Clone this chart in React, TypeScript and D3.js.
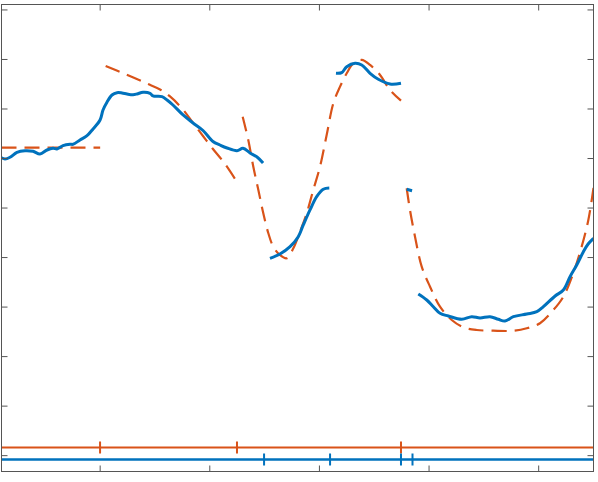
import React from "react";
import * as d3 from "d3";

// x in sample units, y in signal units
const blueSeg1X = [10, 13.2, 17.8, 24.1, 31.4, 38.7, 45.1, 51.5, 57, 60.6, 66.1, 72.5, 75.2, 81.6, 88, 93.5, 99.9, 102.6, 106.2, 110.8, 115.4, 119.9, 124.5, 130, 133.6, 139.1, 145.5, 148.2, 156.4, 161, 166.4, 175.6, 184.7, 193.8, 202.9, 209.3, 215.7, 224.8, 230.3, 236.7, 243.1, 248.6];
const blueSeg1Y = [6.017, 5.99, 6.025, 6.126, 6.158, 6.146, 6.091, 6.172, 6.207, 6.193, 6.259, 6.287, 6.287, 6.374, 6.461, 6.596, 6.778, 6.98, 7.136, 7.283, 7.329, 7.323, 7.303, 7.289, 7.303, 7.338, 7.317, 7.263, 7.249, 7.182, 7.081, 6.879, 6.718, 6.566, 6.344, 6.273, 6.213, 6.158, 6.207, 6.112, 6.031, 5.91];
const blueSeg2X = [254.9, 264, 273.2, 280.7, 285.3, 291.4, 297.5, 303.5, 309];
const blueSeg2Y = [3.985, 4.072, 4.22, 4.421, 4.658, 4.961, 5.229, 5.379, 5.405];
const blueSeg3X = [315.1, 320.3, 324.9, 332.5, 338.6, 346.2, 353.7, 364.4, 374.4];
const blueSeg3Y = [7.721, 7.733, 7.854, 7.923, 7.889, 7.721, 7.6, 7.505, 7.519];
const blueSeg4X = [379.6, 384.5];
const blueSeg4Y = [5.379, 5.35];
const blueSeg5X = [390.2, 397.9, 403.9, 410, 417.6, 429.8, 438.9, 446.5, 455.6, 463.2, 469.3, 476.9, 489.1, 498.3, 504.3, 515, 522.5, 528.6, 534.7, 540.8, 545.1, 550];
const blueSeg5Y = [3.264, 3.143, 3.008, 2.875, 2.82, 2.753, 2.806, 2.78, 2.806, 2.753, 2.719, 2.806, 2.86, 2.907, 3.008, 3.224, 3.345, 3.614, 3.85, 4.119, 4.274, 4.389];

const fitSegAX = [10, 100];
const fitSegAY = [6.219, 6.219];
const fitSegBX = [105, 122.7, 142.5, 154.6, 163.7, 174.7, 184.7, 193.8, 202.9, 213.9, 224.8];
const fitSegBY = [7.869, 7.707, 7.515, 7.394, 7.253, 7.01, 6.718, 6.455, 6.192, 5.89, 5.526];
const fitSegCX = [230, 235.1, 239.7, 244.3, 248.8, 253.4, 257.9, 264, 270.2, 276.2, 282.3, 288.4, 294.4, 300.5, 306.6, 312.7, 318.8, 324.9, 330.9, 338.6, 346.2, 355.3, 364.4, 374.4];
const fitSegCY = [6.845, 6.374, 5.835, 5.365, 4.894, 4.49, 4.22, 4.052, 3.985, 4.187, 4.522, 4.894, 5.365, 5.835, 6.475, 7.115, 7.451, 7.721, 7.923, 7.99, 7.889, 7.687, 7.384, 7.168];
const fitSegDX = [379.6, 382.6, 387.2, 393.3, 400.9, 410, 420.7, 431.3, 443.5, 458.6, 476.9, 489.1, 501.2, 513.4, 522.5, 531.5, 539.2, 545.3, 550];
const fitSegDY = [5.399, 4.961, 4.421, 3.816, 3.412, 3.008, 2.739, 2.592, 2.537, 2.523, 2.523, 2.572, 2.673, 2.941, 3.21, 3.682, 4.22, 4.759, 5.405];

const orangeChangePoints = [99.9, 224.8, 374.4];
const blueChangePoints = [249.5, 309.7, 374.4, 384.9];
const orangeRailY = 0.165;
const blueRailY = -0.078;

const xTicks = [100, 200, 300, 400, 500];
const yTicks = [0, 1, 2, 3, 4, 5, 6, 7, 8, 9];

const BLUE = "#0072BD";
const ORANGE = "#D95319";

const W = 598;
const H = 482;
const L = 1.5, R = 593.5, T = 4.5, B = 471.5;

export default function App() {
  const x = d3.scaleLinear().domain([10, 550]).range([L, R]);
  const y = d3.scaleLinear().domain([-0.32, 9.11]).range([B, T]);

  const lineSmooth = d3.line<[number, number]>().x((d) => x(d[0])).y((d) => y(d[1])).curve(d3.curveCatmullRom.alpha(0.5));

  const zip = (xs: number[], ys: number[]) => xs.map((v, i) => [v, ys[i]] as [number, number]);

  const blueSegs = [
    zip(blueSeg1X, blueSeg1Y),
    zip(blueSeg2X, blueSeg2Y),
    zip(blueSeg3X, blueSeg3Y),
    zip(blueSeg4X, blueSeg4Y),
    zip(blueSeg5X, blueSeg5Y),
  ];
  const fitSegs = [
    zip(fitSegAX, fitSegAY),
    zip(fitSegBX, fitSegBY),
    zip(fitSegCX, fitSegCY),
    zip(fitSegDX, fitSegDY),
  ];

  const tickLen = 6;
  const axisColor = "#555";

  return (
    <svg width={W} height={H} style={{ position: "absolute", left: 0, top: 0, background: "#fff" }}>
      <defs>
        <clipPath id="plotclip">
          <rect x={L} y={T} width={R - L} height={B - T} />
        </clipPath>
      </defs>
      <rect x={0} y={0} width={W} height={H} fill="#fff" />
      <g clipPath="url(#plotclip)">
        {fitSegs.map((s, i) => (
          <path key={"f" + i} d={lineSmooth(s) || ""} fill="none" stroke={ORANGE} strokeWidth={2.2} strokeDasharray="15 8" />
        ))}
        {blueSegs.map((s, i) => (
          <path key={"b" + i} d={lineSmooth(s) || ""} fill="none" stroke={BLUE} strokeWidth={3} strokeLinejoin="round" />
        ))}
        <line x1={L} x2={R} y1={y(orangeRailY)} y2={y(orangeRailY)} stroke={ORANGE} strokeWidth={2} />
        {orangeChangePoints.map((c, i) => (
          <line key={"oc" + i} x1={x(c)} x2={x(c)} y1={y(orangeRailY) - 6} y2={y(orangeRailY) + 6} stroke={ORANGE} strokeWidth={2} />
        ))}
        <line x1={L} x2={R} y1={y(blueRailY)} y2={y(blueRailY)} stroke={BLUE} strokeWidth={2.5} />
        {blueChangePoints.map((c, i) => (
          <line key={"bc" + i} x1={x(c)} x2={x(c)} y1={y(blueRailY) - 6} y2={y(blueRailY) + 6} stroke={BLUE} strokeWidth={2} />
        ))}
      </g>
      {xTicks.map((t) => (
        <g key={"xt" + t}>
          <line x1={x(t)} x2={x(t)} y1={B} y2={B - tickLen} stroke={axisColor} strokeWidth={1} />
          <line x1={x(t)} x2={x(t)} y1={T} y2={T + tickLen} stroke={axisColor} strokeWidth={1} />
        </g>
      ))}
      {yTicks.map((t) => (
        <g key={"yt" + t}>
          <line x1={L} x2={L + tickLen} y1={y(t)} y2={y(t)} stroke={axisColor} strokeWidth={1} />
          <line x1={R} x2={R - tickLen} y1={y(t)} y2={y(t)} stroke={axisColor} strokeWidth={1} />
        </g>
      ))}
      <rect x={L} y={T} width={R - L} height={B - T} fill="none" stroke={axisColor} strokeWidth={1} />
    </svg>
  );
}
